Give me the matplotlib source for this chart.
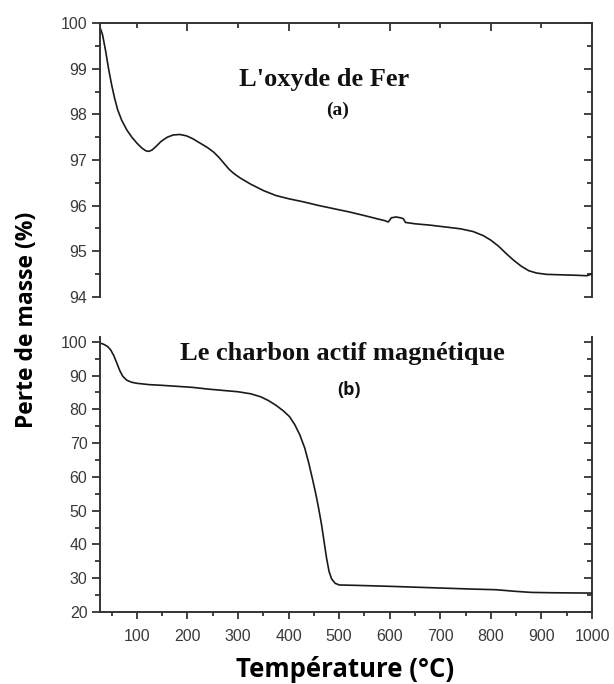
import matplotlib
matplotlib.use("Agg")
import matplotlib.pyplot as plt
from matplotlib.ticker import MultipleLocator
import numpy as np

# thermogravimetric curves, temperature in degC, mass in %
temp_fer = [28, 32, 38, 44, 50, 56, 62, 70, 80, 90, 100, 110, 118, 124, 130, 138,
            148, 160, 172, 185, 198, 210, 225, 240, 252, 262, 272, 282, 292, 305,
            325, 350, 375, 400, 430, 460, 490, 520, 550, 575, 590, 597, 600, 603,
            612, 622, 627, 631, 650, 680, 710, 740, 765, 785, 800, 815, 830, 845,
            860, 875, 890, 910, 940, 970, 990, 1000]
masse_fer = [99.88, 99.75, 99.4, 99.0, 98.65, 98.35, 98.1, 97.87, 97.66, 97.5, 97.37,
             97.26, 97.2, 97.19, 97.22, 97.3, 97.41, 97.5, 97.55, 97.56, 97.53, 97.47,
             97.37, 97.27, 97.17, 97.06, 96.93, 96.8, 96.7, 96.6, 96.47, 96.33, 96.22,
             96.15, 96.08, 96.0, 95.93, 95.86, 95.78, 95.71, 95.67, 95.64, 95.68, 95.73,
             95.75, 95.73, 95.71, 95.63, 95.6, 95.57, 95.53, 95.49, 95.43, 95.34, 95.24,
             95.11, 94.95, 94.8, 94.67, 94.57, 94.52, 94.49, 94.48, 94.47, 94.46, 94.5]

temp_cam = [28, 35, 42, 48, 54, 60, 66, 72, 80, 90, 100, 125, 150, 180, 210, 240, 270,
            300, 325, 345, 360, 375, 390, 402, 412, 422, 432, 440, 447, 453, 459, 465,
            470, 475, 480, 485, 492, 500, 530, 600, 680, 760, 810, 850, 880, 920, 1000]
masse_cam = [99.6, 99.2, 98.6, 97.6, 96.0, 93.8, 91.5, 89.8, 88.6, 88.0, 87.7, 87.3,
             87.1, 86.8, 86.5, 86.0, 85.6, 85.2, 84.6, 83.7, 82.6, 81.2, 79.5, 77.8,
             75.5, 72.5, 68.5, 64.0, 59.5, 55.5, 51.0, 46.0, 41.0, 36.0, 32.0, 29.8,
             28.5, 28.0, 27.9, 27.6, 27.2, 26.8, 26.6, 26.1, 25.8, 25.7, 25.6]

W, H = 614, 684
fig = plt.figure(figsize=(W / 100, H / 100), dpi=100)

axe_col = "#333333"
tick_col = "#3a3a3a"
left, right = 100 / W, 592 / W

ax1 = fig.add_axes([left, 1 - 296.7 / H, right - left, (296.7 - 23.3) / H])
ax2 = fig.add_axes([left, 1 - 612 / H, right - left, (612 - 336.7) / H])

ax1.plot(temp_fer, masse_fer, color="#1a1a1a", lw=1.2)
ax2.plot(temp_cam, masse_cam, color="#1a1a1a", lw=1.2)

ax1.set_xlim(27, 1000)
ax2.set_xlim(27, 1000)
ax1.set_ylim(94, 100)
ax2.set_ylim(20, 101.5)

def style(ax, major, minor):
    for s in ax.spines.values():
        s.set_color(axe_col)
        s.set_linewidth(1.4)
    ax.spines["right"].set_visible(False)
    ax.yaxis.set_major_locator(MultipleLocator(major))
    ax.yaxis.set_minor_locator(MultipleLocator(minor))
    ax.tick_params(axis="y", which="both", direction="out", left=True, right=False,
                   color=axe_col, width=1.3, labelsize=11.5, labelcolor=tick_col, pad=3)
    ax.tick_params(axis="y", which="major", length=6)
    ax.tick_params(axis="y", which="minor", length=3.5)
    # inward ticks on the right side
    sec = ax.secondary_yaxis("right")
    sec.spines["right"].set_color(axe_col)
    sec.spines["right"].set_linewidth(1.4)
    sec.yaxis.set_major_locator(MultipleLocator(major))
    sec.yaxis.set_minor_locator(MultipleLocator(minor))
    sec.tick_params(axis="y", which="both", direction="in", labelright=False,
                    color=axe_col, width=1.3)
    sec.tick_params(axis="y", which="major", length=6)
    sec.tick_params(axis="y", which="minor", length=3.5)
    for lab in ax.get_yticklabels():
        lab.set_fontfamily("Liberation Sans")

style(ax1, 1, 0.5)
style(ax2, 10, 5)

# top panel: frame on top, no bottom line
ax1.spines["bottom"].set_visible(False)
ax1.xaxis.set_major_locator(MultipleLocator(200))
ax1.xaxis.set_minor_locator(MultipleLocator(100))
ax1.tick_params(axis="x", which="both", bottom=False, top=True, labelbottom=False,
                direction="in", color=axe_col, width=1.3)
ax1.tick_params(axis="x", which="major", length=6)
ax1.tick_params(axis="x", which="minor", length=3.5)

# bottom panel: open on top, temperature axis below
ax2.spines["top"].set_visible(False)
ax2.xaxis.set_major_locator(MultipleLocator(100))
ax2.xaxis.set_minor_locator(MultipleLocator(50))
ax2.set_xticks([100, 200, 300, 400, 500, 600, 700, 800, 900, 1000])
ax2.tick_params(axis="x", which="both", direction="out", top=False, color=axe_col,
                width=1.3, labelsize=11.5, labelcolor=tick_col, pad=7)
ax2.tick_params(axis="x", which="major", length=5)
ax2.tick_params(axis="x", which="minor", length=3)
for lab in ax2.get_xticklabels():
    lab.set_fontfamily("Liberation Sans")

# panel titles
fig.text(324 / W, 1 - 86 / H, "L'oxyde de Fer", family="Liberation Serif",
         weight="bold", size=19, ha="center", va="baseline", color="#111111")
fig.text(338 / W, 1 - 110 / H, "(a)", family="Liberation Serif", weight="bold",
         size=14, ha="center", va="center", color="#111111")
fig.text(342 / W, 1 - 360 / H, "Le charbon actif magnétique", family="Liberation Serif",
         weight="bold", size=19, ha="center", va="baseline", color="#111111")
fig.text(349 / W, 1 - 390 / H, "(b)", family="Open Sans", weight="bold",
         size=13, ha="center", va="center", color="#111111")

# axis titles
fig.text(345 / W, 1 - 677 / H, "Température (°C)", family="Open Sans", weight="bold",
         size=18.5, ha="center", va="baseline", color="black")
fig.text(27 / W, 1 - 320 / H, "Perte de masse (%)", family="Open Sans", weight="bold",
         size=16.5, ha="center", va="center", rotation=90, color="black")

fig.savefig("out.png", dpi=100)
